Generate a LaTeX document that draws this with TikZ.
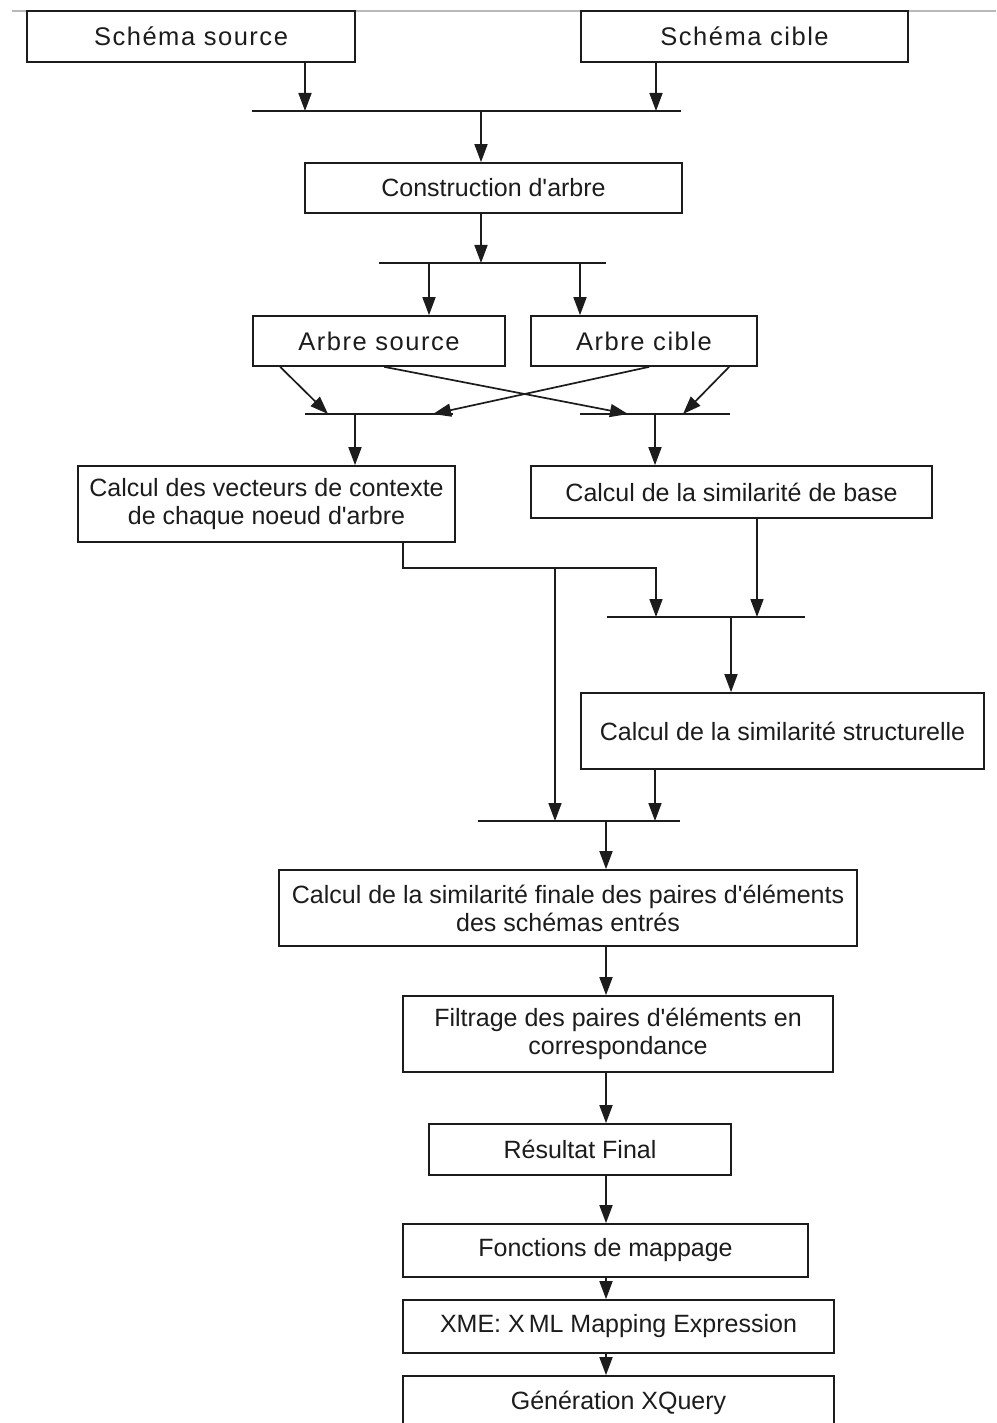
\documentclass[tikz,border=0pt]{standalone}
\usepackage{fontspec}
\setmainfont{Liberation Sans}
\usetikzlibrary{arrows.meta,calc}
\definecolor{ink}{HTML}{1C1C1C}
\newcommand{\apos}{\textquotesingle}
\begin{document}
\begin{tikzpicture}[x=1pt,y=-1pt,
  box/.style={draw=ink, line width=1.7pt, fill=white, inner sep=0pt, align=center,
    text=ink, font=\fontsize{25}{28}\selectfont},
  wide/.style={font=\fontsize{25.5}{28}\selectfont\addfontfeatures{LetterSpace=6}},
  link/.style={draw=ink, line width=1.7pt},
  arr/.style={link, -{Triangle[length=18pt,width=13pt]}},
  bar/.style={link}]
\clip (0,0) rectangle (996,1423);
\fill[white] (0,0) rectangle (996,1423);
\draw[gray!55, line width=1.5pt] (12,11) -- (996,11);

% ---- boxes ----
\node[box, wide, minimum width=328pt, minimum height=51pt] (ss) at (191,36.5) {Schéma source};
\node[box, wide, minimum width=327pt, minimum height=51pt] (sc) at (744.5,36.5) {Schéma cible};
\node[box, minimum width=377pt, minimum height=50pt] (ca) at (493.5,188) {Construction d\apos arbre};
\node[box, wide, minimum width=252pt, minimum height=50pt] (as) at (379,341) {Arbre source};
\node[box, wide, minimum width=226pt, minimum height=50pt] (ac) at (644,341) {Arbre cible};
\node[box, minimum width=377pt, minimum height=76pt] (cv) at (266.5,504)
  {Calcul des vecteurs de contexte\\de chaque noeud d\apos arbre};
\node[box, minimum width=401pt, minimum height=52pt] (sb) at (731.5,492) {Calcul de la similarité de base};
\node[box, minimum width=403pt, minimum height=76pt] (st) at (782.5,731) {Calcul de la similarité structurelle};
\node[box, minimum width=578pt, minimum height=76pt] (sf) at (568,908)
  {Calcul de la similarité finale des paires d\apos éléments\\des schémas entrés};
\node[box, minimum width=430pt, minimum height=76pt] (fi) at (618,1034)
  {Filtrage des paires d\apos éléments en\\correspondance};
\node[box, minimum width=302pt, minimum height=51pt] (rf) at (580,1149.5) {Résultat Final};
\node[box, minimum width=405pt, minimum height=53pt] (fm) at (605.5,1250.5) {Fonctions de mappage};
\node[box, minimum width=431pt, minimum height=53pt] (xm) at (618.5,1326.5) {XME: X\kern4pt ML Mapping Expression};
\node[box, minimum width=431pt, minimum height=53pt] (gx) at (618.5,1402.5) {Génération XQuery};

% ---- junction bars and branch points ----
\coordinate (j1L) at (252,111);  \coordinate (j1R) at (681,111);
\coordinate (j1a) at (305,111);  \coordinate (j1b) at (656,111);  \coordinate (j1c) at (481,111);
\coordinate (j2L) at (379,263);  \coordinate (j2R) at (606,263);
\coordinate (j2c) at (481,263);  \coordinate (j2a) at (429,263);  \coordinate (j2b) at (580,263);
\coordinate (j3L) at (305,414);  \coordinate (j3M) at (453,414);
\coordinate (j3N) at (580,414);  \coordinate (j3R) at (730,414);
\coordinate (j3a) at (355,414);  \coordinate (j3b) at (655,414);
\coordinate (t1) at (328,414);   \coordinate (t2) at (628,414);
\coordinate (t3) at (433,414);   \coordinate (t4) at (683,414);
\coordinate (k1) at (403,568);   \coordinate (k2) at (656,568);  \coordinate (k3) at (555,568);
\coordinate (j4L) at (607,617);  \coordinate (j4R) at (805,617);
\coordinate (j4a) at (656,617);  \coordinate (j4b) at (757,617);  \coordinate (j4c) at (731,617);
\coordinate (j5L) at (478,821);  \coordinate (j5R) at (680,821);
\coordinate (j5a) at (555,821);  \coordinate (j5b) at (655,821);  \coordinate (j5c) at (606,821);
\coordinate (m) at (606,0);

\draw[bar] (j1L) -- (j1R);
\draw[bar] (j2L) -- (j2R);
\draw[bar] (j3L) -- (j3M);
\draw[bar] (j3N) -- (j3R);
\draw[bar] (j4L) -- (j4R);
\draw[bar] (j5L) -- (j5R);

% ---- connectors ----
\draw[arr] (ss.south -| j1a) -- (j1a);
\draw[arr] (sc.south -| j1b) -- (j1b);
\draw[arr] (j1c) -- (ca.north -| j1c);
\draw[arr] (ca.south -| j2c) -- (j2c);
\draw[arr] (j2a) -- (as.north -| j2a);
\draw[arr] (j2b) -- (ac.north -| j2b);

\draw[arr] ($(as.south west)+(28,0)$) -- (t1);
\draw[arr] ($(as.south west)+(132,0)$) -- (t2);
\draw[arr] ($(ac.south west)+(119,0)$) -- (t3);
\draw[arr] ($(ac.south west)+(199,0)$) -- (t4);

\draw[arr] (j3a) -- (cv.north -| j3a);
\draw[arr] (j3b) -- (sb.north -| j3b);

\draw[arr] (cv.south -| k1) -- (k1) -- (k2) -- (j4a);
\draw[arr] (k3) -- (j5a);
\draw[arr] (sb.south -| j4b) -- (j4b);
\draw[arr] (j4c) -- (st.north -| j4c);
\draw[arr] (st.south -| j5b) -- (j5b);
\draw[arr] (j5c) -- (sf.north -| j5c);

\draw[arr] (sf.south -| m) -- (fi.north -| m);
\draw[arr] (fi.south -| m) -- (rf.north -| m);
\draw[arr] (rf.south -| m) -- (fm.north -| m);
\draw[arr] (fm.south -| m) -- (xm.north -| m);
\draw[arr] (xm.south -| m) -- (gx.north -| m);
\end{tikzpicture}
\end{document}
